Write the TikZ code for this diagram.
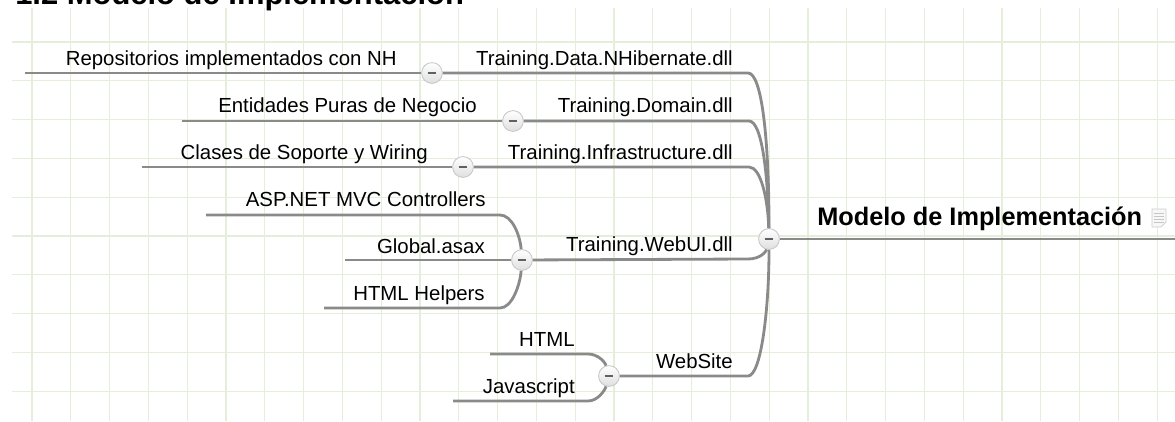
\documentclass[tikz,border=0pt]{standalone}
\usepackage{fontspec}
\setmainfont{Liberation Sans}
\usepackage{xcolor}
\definecolor{linegray}{RGB}{138,138,138}
\definecolor{gridgreen}{RGB}{229,238,218}

\begin{document}
\begin{tikzpicture}[
    x=0.025cm, y=-0.025cm,
    gridline/.style={gridgreen, line width=0.8pt},
    branch/.style={linegray, line width=2pt},
    fold/.style={circle, draw=gray!45, line width=0.6pt, top color=white, bottom color=gray!25,
        minimum size=0.52cm, inner sep=0pt,
        path picture={\draw[gray!75!black, line width=1.6pt]
            ([xshift=-0.11cm]path picture bounding box.center) --
            ([xshift=0.11cm]path picture bounding box.center);}},
    topic/.style={font=\fontsize{14.5}{17}\selectfont, anchor=base east, inner sep=0pt},
    root/.style={font=\fontsize{18}{22}\selectfont\bfseries, anchor=base west, inner sep=0pt}
]

\useasboundingbox (0,0) rectangle (1175,421);

% Grid
\foreach \i in {0,...,29}
    \draw[gridline] ({32+38.8*\i},8) -- ({32+38.8*\i},421);
\foreach \j in {0,...,9}
    \draw[gridline] (12,{42+38.8*\j}) -- (1175,{42+38.8*\j});

% Title (cut by the page)
\node[font=\fontsize{22}{26}\selectfont\bfseries, anchor=base west, inner sep=0pt]
    (title) at (15,4) {1.2 Modelo de Implementación};

% Fold buttons
\node[fold] (hub) at (769,239) {};
\node[fold] (fData) at (432,73) {};
\node[fold] (fDomain) at (513,121) {};
\node[fold] (fInfra) at (463,167) {};
\node[fold] (fWeb) at (522,260) {};
\node[fold] (fSite) at (609,376) {};

% Root
\coordinate (rootR) at (1175,239);
\draw[branch] (hub) -- (rootR);
\node[root] (root) at (817,225) {Modelo de Implementación};
\draw[gray!40, fill=gray!6, line width=0.5pt] (1152,209) -- (1166,209) -- (1166,222)
    -- (1161,227) -- (1152,227) -- cycle;
\foreach \k in {213,216,219,222}
    \draw[gray!45, line width=0.6pt] (1154,\k) -- (1164,\k);

% Training.Data.NHibernate.dll
\coordinate (dataR) at (748,73);
\coordinate (repoL) at (25,73);
\node[topic] (tData) at (733,65) {Training.Data.NHibernate.dll};
\node[topic] (tRepo) at (397,65) {Repositorios implementados con NH};
\draw[branch] (fData) -- (dataR) .. controls (762,73) and (769,140) .. (hub);
\draw[branch] (repoL) -- (fData);

% Training.Domain.dll
\coordinate (domainR) at (749,121);
\coordinate (entL) at (182,121);
\node[topic] (tDomain) at (733,112) {Training.Domain.dll};
\node[topic] (tEnt) at (477,112) {Entidades Puras de Negocio};
\draw[branch] (fDomain) -- (domainR) .. controls (762,121) and (768,175) .. (hub);
\draw[branch] (entL) -- (fDomain);

% Training.Infrastructure.dll
\coordinate (infraR) at (749,167);
\coordinate (clasesL) at (142,167);
\node[topic] (tInfra) at (733,159) {Training.Infrastructure.dll};
\node[topic] (tClases) at (428,159) {Clases de Soporte y Wiring};
\draw[branch] (fInfra) -- (infraR) .. controls (761,167) and (768,200) .. (hub);
\draw[branch] (clasesL) -- (fInfra);

% Training.WebUI.dll
\coordinate (webR) at (748,259);
\coordinate (aspL) at (206,215);
\coordinate (aspR) at (500,215);
\coordinate (globalL) at (345,260);
\coordinate (helpL) at (324,308);
\coordinate (helpR) at (500,308);
\node[topic] (tWeb) at (733,251) {Training.WebUI.dll};
\node[topic] (tAsp) at (486,206) {ASP.NET MVC Controllers};
\node[topic] (tGlobal) at (485,253) {Global.asax};
\node[topic] (tHelp) at (485,300) {HTML Helpers};
\draw[branch] (fWeb) -- (webR) .. controls (760,259) and (766,252) .. (hub);
\draw[branch] (aspL) -- (aspR) .. controls (512,215) and (520,235) .. (fWeb);
\draw[branch] (globalL) -- (fWeb);
\draw[branch] (helpL) -- (helpR) .. controls (512,308) and (520,285) .. (fWeb);

% WebSite
\coordinate (siteR) at (748,376);
\coordinate (htmlL) at (490,354);
\coordinate (htmlR) at (588,354);
\coordinate (jsL) at (453,401);
\coordinate (jsR) at (588,401);
\node[topic] (tSite) at (733,368) {WebSite};
\node[topic] (tHtml) at (575,346) {HTML};
\node[topic] (tJs) at (575,393) {Javascript};
\draw[branch] (fSite) -- (siteR) .. controls (761,376) and (769,310) .. (hub);
\draw[branch] (htmlL) -- (htmlR) .. controls (598,354) and (605,362) .. (fSite);
\draw[branch] (jsL) -- (jsR) .. controls (598,401) and (605,390) .. (fSite);

\end{tikzpicture}
\end{document}
